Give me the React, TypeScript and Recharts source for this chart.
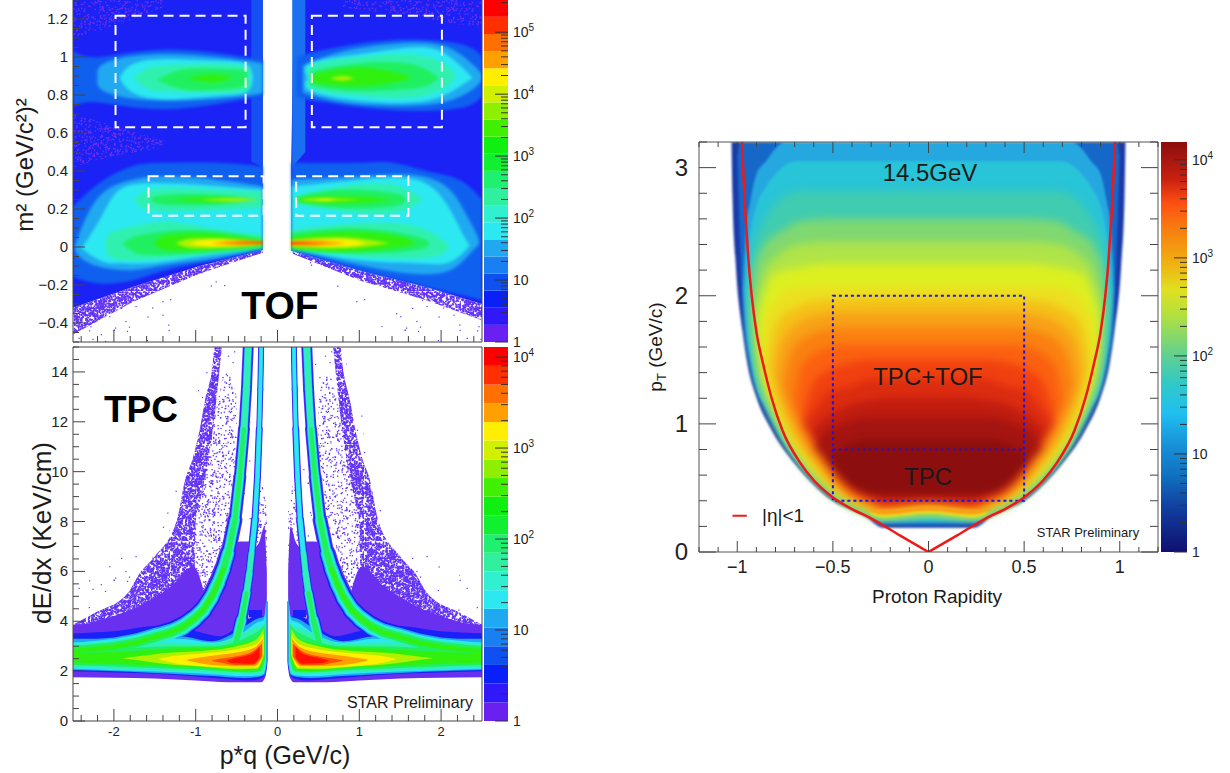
import { ComposedChart, Area, Line, XAxis, YAxis, ReferenceArea, ReferenceLine } from 'recharts';

type Row = [number, number, number];
type Pt = [number, number];

const FONT = '"Liberation Sans", Arial, sans-serif';

// jet-like palette of the two ROOT plots on the left
const PURPLE = '#6a30f0';
const BLUE = '#1a20f8';
const MIDBLUE = '#1060f0';
const LIGHTBLUE = '#20a8f0';
const CYAN = '#2ce8f0';
const TEAL = '#30f0b0';
const GREEN = '#20f060';
const BRIGHT = '#30f010';
const LIME = '#b0f000';
const YELLOW = '#fff000';
const ORANGE = '#ffa000';
const REDORANGE = '#ff5000';
const RED = '#ff1000';

// ---------- TOF panel: m2 vs p*q, contours as [p*q, low, high] ----------
const tofBaseLeft: Row[] = [[-2.5, -0.32, 1.3], [-1.77, -0.21, 1.3], [-0.95, -0.1, 1.3], [-0.18, -0.016, 1.3]];
const tofBaseRight: Row[] = [[0.167, -0.02, 0.42], [0.2, -0.022, 1.3], [1, -0.122, 1.3], [1.82, -0.21, 1.3], [2.5, -0.3, 1.3]];
const tofDenseLeft: Row[] = [[-2.5, -0.46, -0.32], [-1.77, -0.29, -0.21], [-0.95, -0.14, -0.1], [-0.18, -0.03, -0.016]];
const tofDenseRight: Row[] = [[0.187, -0.035, -0.02], [1, -0.175, -0.122], [1.82, -0.28, -0.21], [2.5, -0.386, -0.3]];
const tofSparseLeft: Row[] = [[-2.5, -0.5, -0.46], [-1.5, -0.5, -0.21], [-1, -0.38, -0.14], [-0.5, -0.18, -0.08], [-0.2, -0.04, -0.03]];
const tofSparseRight: Row[] = [[0.2, -0.05, -0.035], [0.6, -0.2, -0.1], [1.1, -0.38, -0.19], [1.6, -0.5, -0.25], [2.5, -0.5, -0.386]];
const tofPurpleA: Row[] = [[-2.5, 1.1, 1.3], [-2, 1.16, 1.3], [-1.4, 1.26, 1.3]];
const tofPurpleB: Row[] = [[-2.5, 0.42, 0.7], [-2, 0.48, 0.64], [-1.4, 0.52, 0.56]];
const tofPurpleC: Row[] = [[0.8, 1.26, 1.3], [1.6, 1.22, 1.3], [2.5, 1.15, 1.3]];
const tofGapLeft: Row[] = [[-0.32, 0.45, 1.3], [-0.18, 0.42, 1.3]];
const tofGapRight: Row[] = [[0.18, 0.42, 1.3], [0.34, 0.5, 1.3]];

const protonLeftMid: Row[] = [[-2.5, 0.74, 1.03], [-2.175, 0.76, 1], [-1.36, 0.725, 1.04], [-0.38, 0.78, 1], [-0.18, 0.8, 0.98]];
const protonLeftLight: Row[] = [[-2.2, 0.89, 0.89], [-2.09, 0.813, 0.972], [-1.36, 0.769, 1.016], [-0.383, 0.795, 0.981], [-0.18, 0.82, 0.96]];
const protonLeftCyan: Row[] = [[-1.93, 0.89, 0.89], [-1.77, 0.813, 0.963], [-1.36, 0.777, 0.99], [-0.75, 0.795, 0.981], [-0.383, 0.813, 0.963], [-0.3, 0.89, 0.89]];
const protonLeftTeal: Row[] = [[-1.77, 0.89, 0.89], [-1.6, 0.835, 0.94], [-1.44, 0.82, 0.954], [-0.953, 0.813, 0.963], [-0.403, 0.82, 0.954], [-0.36, 0.89, 0.89]];
const protonLeftGreen: Row[] = [[-1.48, 0.88, 0.88], [-1.157, 0.83, 0.933], [-0.75, 0.827, 0.937], [-0.403, 0.848, 0.928], [-0.38, 0.89, 0.89]];
const protonLeftBright: Row[] = [[-1.116, 0.885, 0.885], [-0.79, 0.866, 0.91], [-0.546, 0.89, 0.89]];

const protonRightMid: Row[] = [[0.23, 0.79, 1], [0.595, 0.76, 1.04], [1.41, 0.72, 1.09], [2.22, 0.73, 1.07], [2.5, 0.795, 1]];
const protonRightLight: Row[] = [[0.31, 0.813, 0.957], [0.798, 0.76, 1.03], [1.41, 0.742, 1.07], [2.02, 0.76, 1.06], [2.387, 0.83, 0.96], [2.5, 0.88, 0.91]];
const protonRightCyan: Row[] = [[0.37, 0.89, 0.89], [0.41, 0.82, 0.97], [1, 0.77, 1.015], [1.61, 0.76, 1.05], [2.02, 0.795, 1.025], [2.387, 0.89, 0.89]];
const protonRightTeal: Row[] = [[0.4, 0.89, 0.89], [0.43, 0.83, 0.96], [1, 0.795, 1], [1.61, 0.786, 1.015], [2.02, 0.83, 0.97], [2.18, 0.9, 0.9]];
const protonRightGreen: Row[] = [[0.43, 0.89, 0.89], [0.452, 0.848, 0.928], [1, 0.82, 0.966], [1.53, 0.83, 0.97], [1.817, 0.848, 0.936], [1.98, 0.89, 0.89]];
const protonRightBright: Row[] = [[0.44, 0.89, 0.89], [0.452, 0.866, 0.91], [1, 0.845, 0.945], [1.53, 0.875, 0.91], [1.6, 0.89, 0.89]];
const protonRightLime: Row[] = [[0.635, 0.887, 0.887], [0.8, 0.875, 0.9], [0.94, 0.887, 0.887]];

const lowerLeftMid: Row[] = [[-2.5, -0.157, 0.213], [-2.175, -0.192, 0.337], [-1.77, -0.175, 0.425], [-1.36, -0.122, 0.443], [-0.75, -0.069, 0.443], [-0.18, -0.016, 0.425]];
const lowerLeftLight: Row[] = [[-2.48, 0, 0], [-2.42, -0.051, 0.072], [-2.175, -0.104, 0.268], [-1.77, -0.122, 0.354], [-1.36, -0.095, 0.372], [-0.75, -0.06, 0.354], [-0.18, -0.007, 0.319]];
const lowerLeftCyan: Row[] = [[-2.4, 0, 0], [-2.34, -0.025, 0.028], [-2.13, -0.078, 0.178], [-1.93, -0.086, 0.302], [-1.56, -0.086, 0.337], [-0.953, -0.051, 0.328], [-0.18, -0.012, 0.302]];
const pionLeftTeal: Row[] = [[-2.1, 0.02, 0.02], [-2.05, -0.051, 0.072], [-1.77, -0.069, 0.108], [-1.36, -0.06, 0.134], [-0.953, -0.042, 0.108], [-0.18, -0.007, 0.063]];
const pionLeftGreen: Row[] = [[-1.9, 0.02, 0.02], [-1.77, -0.025, 0.05], [-1.56, -0.042, 0.072], [-0.953, -0.034, 0.09], [-0.18, -0.007, 0.046]];
const pionLeftBright: Row[] = [[-1.5, 0.02, 0.02], [-1.36, -0.015, 0.06], [-0.87, -0.016, 0.072], [-0.18, 0.005, 0.034]];
const pionLeftLime: Row[] = [[-1.24, 0.02, 0.02], [-0.953, -0.007, 0.046], [-0.18, 0.01, 0.03]];
const pionLeftYellow: Row[] = [[-1.075, 0.02, 0.02], [-0.75, 0.002, 0.041], [-0.18, 0.014, 0.028]];
const pionLeftOrange: Row[] = [[-0.83, 0.019, 0.019], [-0.46, 0.011, 0.034], [-0.18, 0.016, 0.028]];
const pionLeftRed: Row[] = [[-0.71, 0.019, 0.019], [-0.18, 0.018, 0.026]];
const kaonLeftTeal: Row[] = [[-1.75, 0.25, 0.25], [-1.65, 0.205, 0.284], [-1.36, 0.187, 0.31], [-0.75, 0.196, 0.302], [-0.18, 0.205, 0.293]];
const kaonLeftGreen: Row[] = [[-1.56, 0.25, 0.25], [-1.36, 0.222, 0.275], [-0.75, 0.222, 0.275], [-0.24, 0.25, 0.25]];
const kaonLeftBright: Row[] = [[-1.32, 0.25, 0.25], [-0.75, 0.235, 0.263], [-0.24, 0.25, 0.25]];
const kaonLeftLime: Row[] = [[-0.953, 0.25, 0.25], [-0.546, 0.24, 0.257], [-0.24, 0.25, 0.25]];

const lowerRightMid: Row[] = [[0.17, -0.02, 0.443], [1, -0.122, 0.443], [1.41, -0.165, 0.443], [1.82, -0.21, 0.4], [2.22, -0.25, 0.354], [2.5, -0.28, 0.25]];
const lowerRightLight: Row[] = [[0.17, -0.015, 0.354], [1, -0.095, 0.372], [1.61, -0.14, 0.381], [2.06, -0.13, 0.319], [2.3, -0.06, 0.178], [2.43, 0, 0.072], [2.47, 0.02, 0.02]];
const lowerRightCyan: Row[] = [[0.17, -0.012, 0.319], [1, -0.07, 0.354], [1.695, -0.086, 0.354], [2.06, -0.086, 0.231], [2.26, -0.034, 0.072], [2.35, 0.011, 0.011]];
const pionRightTeal: Row[] = [[0.167, -0.019, 0.09], [1, -0.051, 0.125], [1.695, -0.06, 0.108], [2.02, -0.034, 0.037], [2.1, 0.011, 0.011]];
const pionRightGreen: Row[] = [[0.167, -0.016, 0.072], [1, -0.034, 0.099], [1.695, -0.016, 0.055], [1.857, 0.02, 0.02]];
const pionRightBright: Row[] = [[0.167, -0.007, 0.051], [0.798, -0.025, 0.081], [1.41, -0.007, 0.063], [1.695, 0.02, 0.02]];
const pionRightLime: Row[] = [[0.167, 0.002, 0.037], [0.798, -0.007, 0.051], [1.37, 0.02, 0.02]];
const pionRightYellow: Row[] = [[0.167, 0.007, 0.032], [0.758, 0.002, 0.041], [1.083, 0.02, 0.02]];
const pionRightOrange: Row[] = [[0.167, 0.011, 0.028], [0.473, 0.007, 0.034], [0.84, 0.02, 0.02]];
const pionRightRed: Row[] = [[0.167, 0.014, 0.025], [0.595, 0.02, 0.02]];
const kaonRightTeal: Row[] = [[0.187, 0.231, 0.266], [0.798, 0.187, 0.319], [1.41, 0.178, 0.328], [1.776, 0.25, 0.25]];
const kaonRightGreen: Row[] = [[0.248, 0.231, 0.266], [0.798, 0.205, 0.302], [1.41, 0.213, 0.284], [1.57, 0.25, 0.25]];
const kaonRightBright: Row[] = [[0.248, 0.25, 0.25], [0.43, 0.231, 0.266], [1, 0.231, 0.266], [1.41, 0.25, 0.25]];
const kaonRightLime: Row[] = [[0.289, 0.25, 0.25], [0.513, 0.24, 0.257], [1.04, 0.25, 0.25]];
const kaonRightYellow: Row[] = [[0.45, 0.25, 0.25], [0.6, 0.243, 0.254], [0.7, 0.25, 0.25]];

const tofBoxes = [[-1.98, -0.39, 0.63, 1.217], [0.42, 2.01, 0.63, 1.217], [-1.576, -0.17, 0.164, 0.372], [0.228, 1.6, 0.164, 0.372]];

// ---------- TPC panel: dE/dx vs p*q, read on the positive side ----------
const tpcSparse: Row[] = [[0.45, 13, 15], [0.6, 9, 15], [0.9, 5, 14], [1.2, 4, 10], [1.5, 3.5, 7.6], [2, 3.5, 6.4], [2.5, 3.5, 5.2]];
const tpcMedium: Row[] = [[0.5, 8, 13], [0.62, 6.5, 14], [0.75, 5, 12.5], [0.9, 4.4, 9.7], [1.03, 4, 8]];
const tpcDense: Row[] = [[0.68, 15, 15], [0.73, 13.4, 15], [0.77, 12.2, 15], [0.79, 11.7, 14.4], [0.89, 9.67, 12.8], [0.95, 8.8, 11.7], [1, 7.9, 11], [1.03, 3.5, 10.6], [1.13, 3, 9.67], [1.23, 3, 8.06], [1.5, 3, 6.6], [1.69, 3, 5.9], [1.83, 3, 5.13], [2.24, 3, 4.32], [2.5, 3, 3.86]];
const tpcSolid: Row[] = [[0.9, 3.5, 5.2], [1.03, 3.5, 6.2], [1.3, 3, 5.4], [1.7, 3, 4.6], [2.1, 3, 4.1], [2.5, 3, 3.75]];
const tpcGapSpeck: Row[] = [[0.27, 7, 11], [0.33, 7, 12], [0.42, 7, 10]];
const tpcPatchOuter: Row[] = [[0.33, 5.2, 7.2], [0.45, 3.8, 7.2], [0.55, 3.4, 7], [0.68, 3.3, 5.9], [0.83, 3.3, 4.6], [0.9, 3.3, 3.8]];
const tpcPatchInner: Row[] = [[0.13, 4.25, 6], [0.16, 4.25, 7.8], [0.22, 4.25, 7.2], [0.3, 4.25, 6.8], [0.36, 4.25, 6.2], [0.42, 4.25, 4.6]];
const tpcPatchFuzz: Row[] = [[0.13, 6, 8.5], [0.2, 7, 9.5], [0.3, 6.8, 8]];
const tpcPatchBlue: Row[] = [[0.19, 4.15, 4.45], [0.35, 4.15, 4.45]];

const tpcMainPurple: Row[] = [[0.12, 2.4, 4.8], [0.15, 1.75, 4.8], [0.2, 1.55, 4.4], [0.3, 1.55, 4.2], [0.6, 1.55, 3.6], [1, 1.62, 4.3], [1.5, 1.7, 4.2], [2, 1.73, 4], [2.5, 1.75, 3.86]];
const tpcMainBlue: Row[] = [[0.13, 2.2, 4.6], [0.16, 1.8, 4.2], [0.22, 1.68, 4.2], [0.35, 1.62, 4.1], [0.7, 1.7, 3.4], [1, 1.78, 3.6], [1.5, 1.9, 3.8], [2, 1.95, 3.6], [2.5, 2, 3.52]];
const tpcMainLight: Row[] = [[0.135, 2.25, 5], [0.16, 1.85, 4.2], [0.25, 1.76, 4.1], [0.4, 1.72, 3.8], [0.8, 1.8, 3.2], [1.2, 1.88, 3.4], [1.8, 1.98, 3.3], [2.5, 2.05, 3.3]];
const tpcMainCyan: Row[] = [[0.135, 2.3, 4.9], [0.17, 1.9, 4.05], [0.25, 1.82, 3.95], [0.4, 1.8, 3.6], [0.8, 1.88, 3.15], [1.2, 1.95, 3.3], [1.8, 2.02, 3.2], [2.5, 2.1, 3.15]];
const tpcMainTeal: Row[] = [[0.14, 2.4, 4.2], [0.18, 1.95, 3.85], [0.3, 1.88, 3.7], [0.8, 1.95, 3.1], [1.3, 2.02, 3.15], [1.8, 2.08, 3.05], [2.5, 2.15, 3]];
const tpcMainGreen: Row[] = [[0.15, 2.5, 3.9], [0.2, 2, 3.7], [0.35, 1.95, 3.4], [0.8, 2.03, 3], [1.3, 2.1, 3], [1.8, 2.17, 2.93], [2.5, 2.25, 2.88]];
const tpcMainBright: Row[] = [[0.16, 2.5, 3.6], [0.22, 2.05, 3.4], [0.4, 2, 3.15], [0.8, 2.1, 2.95], [1.2, 2.17, 2.92], [1.8, 2.27, 2.8], [2.5, 2.35, 2.72]];
const tpcMainLime: Row[] = [[0.17, 2.6, 3.7], [0.25, 2.1, 3.3], [0.5, 2.08, 3], [0.9, 2.18, 2.82], [1.4, 2.3, 2.72], [1.8, 2.48, 2.56], [1.9, 2.52, 2.52]];
const tpcMainYellow: Row[] = [[0.17, 2.7, 3.5], [0.25, 2.15, 3.1], [0.5, 2.15, 2.88], [0.9, 2.2, 2.72], [1.3, 2.35, 2.6], [1.45, 2.48, 2.5]];
const tpcMainOrange: Row[] = [[0.18, 2.6, 3.3], [0.28, 2.2, 2.95], [0.5, 2.2, 2.75], [0.8, 2.25, 2.62], [1.1, 2.42, 2.47]];
const tpcMainRedOrange: Row[] = [[0.19, 2.6, 3.1], [0.3, 2.25, 2.8], [0.5, 2.25, 2.6], [0.7, 2.35, 2.5], [0.8, 2.42, 2.44]];
const tpcMainRed: Row[] = [[0.22, 2.55, 3], [0.3, 2.3, 2.72], [0.55, 2.33, 2.5], [0.62, 2.4, 2.43]];

// ridge of the two curved bands, [p*q, dE/dx], and their width along the ridge
const protonRidge: Pt[] = [[0.358, 15], [0.38, 13.3], [0.41, 11.7], [0.46, 9.8], [0.52, 8.06], [0.603, 6.73], [0.66, 6.1], [0.726, 5.53], [0.81, 4.95], [0.91, 4.45], [1.02, 4.1], [1.155, 3.78], [1.3, 3.55], [1.48, 3.38], [1.75, 3.12], [2.03, 2.95], [2.5, 2.8]];
const protonWidths = [11, 11, 12, 13, 15, 18, 19, 20, 21, 22, 23, 24, 25, 26, 27, 28];
const kaonRidge: Pt[] = [[0.2, 15], [0.21, 13.3], [0.223, 11.7], [0.245, 9.8], [0.276, 8.06], [0.317, 6.73], [0.345, 5.9], [0.378, 5.13], [0.44, 4.05], [0.52, 2.98]];
const kaonWidths = [6, 6, 7, 7, 8, 9, 10, 12, 15];

// ---------- Rapidity panel: pT vs y, nested levels read on the positive side ----------
const rapLevels: [string, Row[]][] = [
  ['#1a3aa8', [[0, 0.19, 3.2], [0.24, 0.19, 3.2], [0.32, 0.265, 3.2], [0.53, 0.43, 3.2], [0.7, 0.69, 3.2], [0.82, 0.95, 3.2], [0.9, 1.21, 3.2], [0.947, 1.47, 3.2], [0.973, 1.73, 3.2], [1.008, 2.25, 3.2], [1.025, 2.78, 3.2], [1.03, 3.2, 3.2]]],
  ['#1568c8', [[0, 0.205, 3.2], [0.24, 0.21, 3.2], [0.31, 0.27, 3.2], [0.52, 0.435, 3.2], [0.69, 0.695, 3.2], [0.81, 0.96, 3.2], [0.89, 1.22, 3.2], [0.94, 1.48, 3.2], [0.965, 1.74, 3.2], [0.985, 2.4, 3.2], [1, 3.1, 3.1]]],
  ['#25a8e0', [[0, 0.23, 3.2], [0.24, 0.23, 3.2], [0.31, 0.27, 3.2], [0.52, 0.44, 3.2], [0.69, 0.7, 3.2], [0.75, 0.83, 3.2], [0.8, 0.97, 3.15], [0.85, 1.12, 3.05], [0.9, 1.28, 2.95], [0.93, 1.49, 2.75], [0.955, 1.74, 2.5], [0.97, 2.05, 2.05]]],
  ['#28c4d8', [[0, 0.25, 3.05], [0.24, 0.245, 3.05], [0.31, 0.275, 3.05], [0.52, 0.445, 3.05], [0.69, 0.71, 3.05], [0.75, 0.84, 3.02], [0.8, 0.98, 2.95], [0.85, 1.13, 2.85], [0.9, 1.3, 2.7], [0.925, 1.5, 2.55], [0.945, 1.75, 2.3], [0.955, 2, 2]]],
];
const rapInnerLevels: [string, Row[]][] = [
  ['#40ccb0', [[0, 0.265, 2.82], [0.24, 0.25, 2.82], [0.31, 0.28, 2.82], [0.52, 0.45, 2.82], [0.68, 0.7, 2.82], [0.75, 0.85, 2.78], [0.8, 0.99, 2.72], [0.85, 1.15, 2.62], [0.89, 1.3, 2.5], [0.92, 1.52, 2.35], [0.94, 1.8, 2.1], [0.945, 1.95, 1.95]]],
  ['#80d870', [[0, 0.28, 2.6], [0.24, 0.255, 2.6], [0.31, 0.285, 2.6], [0.52, 0.455, 2.6], [0.68, 0.71, 2.58], [0.75, 0.86, 2.52], [0.8, 1, 2.48], [0.85, 1.17, 2.42], [0.885, 1.33, 2.33], [0.915, 1.55, 2.2], [0.93, 1.8, 2], [0.935, 1.9, 1.9]]],
  ['#b0e448', [[0, 0.295, 2.42], [0.24, 0.26, 2.42], [0.31, 0.29, 2.42], [0.52, 0.465, 2.42], [0.68, 0.72, 2.4], [0.75, 0.87, 2.36], [0.8, 1.02, 2.3], [0.85, 1.2, 2.22], [0.88, 1.35, 2.1], [0.905, 1.6, 1.95], [0.915, 1.8, 1.8]]],
  ['#dcf020', [[0, 0.305, 2.25], [0.24, 0.27, 2.25], [0.31, 0.305, 2.25], [0.52, 0.475, 2.25], [0.68, 0.73, 2.22], [0.75, 0.88, 2.2], [0.82, 1.1, 2.15], [0.86, 1.25, 2], [0.89, 1.45, 1.85], [0.9, 1.65, 1.65]]],
  ['#ece020', [[0, 0.315, 2.08], [0.24, 0.28, 2.08], [0.31, 0.32, 2.08], [0.5, 0.47, 2.08], [0.66, 0.73, 2.07], [0.72, 0.85, 2.05], [0.78, 1.02, 2], [0.83, 1.2, 1.9], [0.865, 1.4, 1.75], [0.875, 1.55, 1.55]]],
  ['#f5c018', [[0, 0.33, 1.98], [0.24, 0.295, 1.98], [0.3, 0.325, 1.98], [0.48, 0.47, 1.97], [0.64, 0.74, 1.95], [0.7, 0.87, 1.9], [0.76, 1.05, 1.85], [0.81, 1.25, 1.72], [0.84, 1.45, 1.45]]],
  ['#f8a018', [[0, 0.345, 1.87], [0.24, 0.31, 1.87], [0.3, 0.34, 1.87], [0.46, 0.47, 1.87], [0.6, 0.72, 1.84], [0.67, 0.87, 1.8], [0.73, 1.05, 1.72], [0.78, 1.25, 1.58], [0.8, 1.38, 1.38]]],
  ['#fa8010', [[0, 0.36, 1.75], [0.24, 0.325, 1.75], [0.3, 0.355, 1.75], [0.44, 0.47, 1.75], [0.58, 0.72, 1.72], [0.64, 0.86, 1.68], [0.7, 1.05, 1.6], [0.74, 1.2, 1.45], [0.76, 1.3, 1.3]]],
  ['#fb6010', [[0, 0.375, 1.62], [0.24, 0.34, 1.62], [0.3, 0.375, 1.62], [0.42, 0.47, 1.62], [0.55, 0.72, 1.58], [0.62, 0.88, 1.52], [0.67, 1.05, 1.42], [0.7, 1.18, 1.18]]],
  ['#f04010', [[0, 0.385, 1.5], [0.24, 0.355, 1.5], [0.3, 0.395, 1.5], [0.4, 0.47, 1.48], [0.52, 0.68, 1.42], [0.6, 0.88, 1.32], [0.66, 1.05, 1.05]]],
  ['#dc2c10', [[0, 0.395, 1.35], [0.24, 0.375, 1.35], [0.3, 0.42, 1.35], [0.4, 0.5, 1.3], [0.52, 0.7, 1.25], [0.6, 0.88, 1.1], [0.66, 1, 1]]],
  ['#c01c10', [[0, 0.41, 1.2], [0.24, 0.4, 1.2], [0.32, 0.46, 1.18], [0.46, 0.62, 1.12], [0.56, 0.8, 1.02], [0.62, 0.92, 0.92]]],
  ['#a41410', [[0, 0.43, 1.05], [0.3, 0.44, 1.05], [0.45, 0.55, 1], [0.56, 0.75, 0.9], [0.6, 0.82, 0.82]]],
  ['#8c0e0e', [[0, 0.44, 0.88], [0.3, 0.44, 0.88], [0.42, 0.54, 0.84], [0.5, 0.68, 0.76], [0.52, 0.72, 0.72]]],
];
const rapHumpLevels: [string, Row[]][] = [
  ['#80d870', [[0, 0.28, 0.3], [0.24, 0.255, 0.28], [0.3, 0.275, 0.285]]],
  ['#ece020', [[0, 0.3, 0.32], [0.24, 0.27, 0.3], [0.31, 0.3, 0.31]]],
  ['#f8a018', [[0, 0.32, 0.36], [0.24, 0.29, 0.33], [0.32, 0.33, 0.34]]],
];

const etaLeft: Pt[] = [[-0.975, 3.2], [-0.965, 2.85], [-0.952, 2.516], [-0.94, 2.25], [-0.924, 1.995], [-0.9, 1.72], [-0.865, 1.47], [-0.82, 1.2], [-0.764, 0.95], [-0.668, 0.69], [-0.6, 0.56], [-0.503, 0.43], [-0.4, 0.335], [-0.303, 0.265], [-0.15, 0.13], [0, 0]];
const etaRight: Pt[] = [[0, 0], [0.15, 0.13], [0.303, 0.265], [0.4, 0.335], [0.503, 0.43], [0.6, 0.56], [0.668, 0.69], [0.764, 0.95], [0.82, 1.2], [0.865, 1.47], [0.9, 1.72], [0.924, 1.995], [0.94, 2.25], [0.952, 2.516], [0.965, 2.85], [0.975, 3.2]];
const etaLegendKey: Pt[] = [[-1.025, 0.283], [-0.95, 0.283]];

// ---------- colour bars ----------
const tofBarEdges = [1, 1.89, 3.57, 6.74, 12.7, 24, 45.4, 85.7, 162, 306, 578, 1090, 2060, 3890, 7350, 13900, 26200, 49500, 93500, 177000, 331000];
const tpcBarEdges = [1, 1.6, 2.58, 4.13, 6.63, 10.6, 17.1, 27.4, 44, 70.6, 113, 182, 292, 468, 751, 1210, 1930, 3100, 4980, 8000, 12900];
const barColors = ['#6a20f0', '#3018f8', '#0a20f8', '#1050f0', '#1880f0', '#20a8f0', '#2ce8f0', '#30f0d0', '#30f0a0', '#20f070', '#10f030', '#10f010', '#40f000', '#8ef000', '#d0f000', '#ffee00', '#ffa000', '#ff7000', '#ff3000', '#ff0000'];
const rapBarStops: [number, string][] = [[0, '#8a0e0e'], [0.09, '#c82010'], [0.15, '#ff5010'], [0.21, '#f87c10'], [0.295, '#f0b010'], [0.36, '#e0e020'], [0.425, '#b0e040'], [0.52, '#60d090'], [0.59, '#30c8c8'], [0.66, '#20c0f0'], [0.74, '#1890d8'], [0.815, '#1070c0'], [0.89, '#1040a0'], [1, '#101070']];

const tofXMajor = [-2, -1, 0, 1, 2];
const tofYMajor = [-0.4, -0.2, 0, 0.2, 0.4, 0.6, 0.8, 1, 1.2];
const tpcYMajor = [0, 2, 4, 6, 8, 10, 12, 14];
const rapXMajor = [-1, -0.5, 0, 0.5, 1];
const rapYMajor = [0, 1, 2, 3];

const steps = (from: number, to: number, step: number) => {
  const out: number[] = [];
  const n = Math.round((to - from) / step);
  for (let i = 0; i <= n; i++) out.push(Math.round((from + i * step) * 1000) / 1000);
  return out;
};
const logTicks = (top: number) => {
  const out: number[] = [];
  for (let d = 1; d <= top; d *= 10) for (let k = 1; k < 10; k++) if (k * d <= top) out.push(k * d);
  return out;
};

const toBand = (rows: Row[]) => rows.map(([x, lo, hi]) => ({ x, band: [lo, hi] }));
const flipRows = (rows: Row[]): Row[] => rows.map(([x, lo, hi]) => [-x, lo, hi] as Row).reverse();
const bothSides = (rows: Row[]): Row[] => [...flipRows(rows.filter((r) => r[0] !== 0)), ...rows];
const toPoints = (pts: Pt[], sign = 1) => pts.map(([x, y]) => ({ x: sign * x, y })).sort((a, b) => a.x - b.x);

// speckle tiles for the single-count regions (texture only, not data)
const hash = (n: number) => {
  const s = Math.sin(n * 12.9898) * 43758.5453;
  return s - Math.floor(s);
};
const speckle = (id: string, count: number, color: string, dot: number) => {
  const size = 97;
  const dots = [];
  for (let i = 1; i <= count; i++) {
    dots.push(<rect key={i} x={hash(i) * size} y={hash(i + 5000) * size} width={dot} height={dot} fill={color} />);
  }
  return (
    <pattern id={id} width={size} height={size} patternUnits="userSpaceOnUse">
      {dots}
    </pattern>
  );
};
const speckleDefs = (
  <defs>
    {speckle('speckSparse', 40, '#6030f8', 1.2)}
    {speckle('speckMedium', 900, '#6030f8', 1.3)}
    {speckle('speckDense', 5000, '#6030f8', 1.6)}
    {speckle('speckTint', 1200, '#7a30e8', 1.3)}
  </defs>
);

const heatArea = (key: string, rows: Row[], fill: string, curve = 'monotone') => (
  <Area
    key={key}
    data={toBand(rows)}
    dataKey="band"
    type={curve as any}
    fill={fill}
    fillOpacity={1}
    stroke="none"
    dot={false}
    activeDot={false}
    isAnimationActive={false}
  />
);
const ribbon = (key: string, pts: Pt[], sign: number, width: number, color: string) => (
  <Line
    key={key}
    data={toPoints(pts, sign)}
    dataKey="y"
    type="linear"
    stroke={color}
    strokeWidth={width}
    strokeLinecap="round"
    dot={false}
    activeDot={false}
    isAnimationActive={false}
  />
);

function HeatLayer({ left, top, width, height, xDomain, yDomain, blur, speckled, children }: any) {
  return (
    <div style={{ position: 'absolute', left, top, width, height, overflow: 'hidden' }}>
      <div style={{ filter: `blur(${blur}px)`, width, height }}>
        <ComposedChart width={width} height={height} margin={{ top: 0, right: 0, bottom: 0, left: 0 }}>
          {speckled ? speckleDefs : null}
          <XAxis hide dataKey="x" type="number" domain={xDomain} allowDataOverflow />
          <YAxis hide type="number" domain={yDomain} allowDataOverflow />
          {children}
        </ComposedChart>
      </div>
    </div>
  );
}

const axisColor = '#444';
const tickLabelStyle = { fontFamily: FONT, fill: '#222' };
const minusSign = (v: number) => (v < 0 ? `\u2212${Math.abs(v)}` : String(v));

const xTick = (majors: number[], major: number, minor: number, opts: { size?: number; dy?: number; fmt?: (v: number) => string; dir?: number }) => (p: any) => {
  const v = p.payload.value;
  const isMajor = majors.includes(v);
  const dir = opts.dir ?? -1;
  return (
    <g>
      <line x1={p.x} x2={p.x} y1={p.y} y2={p.y + dir * (isMajor ? major : minor)} stroke={axisColor} />
      {opts.size && isMajor ? (
        <text x={p.x} y={p.y + (opts.dy ?? 16)} textAnchor="middle" fontSize={opts.size} {...tickLabelStyle}>
          {opts.fmt ? opts.fmt(v) : String(v)}
        </text>
      ) : null}
    </g>
  );
};
const yTick = (majors: number[], major: number, minor: number, opts: { size?: number; gap?: number; dy?: number; dir?: number }) => (p: any) => {
  const v = p.payload.value;
  const isMajor = majors.includes(v);
  const dir = opts.dir ?? 1;
  return (
    <g>
      <line x1={p.x} x2={p.x + dir * (isMajor ? major : minor)} y1={p.y} y2={p.y} stroke={axisColor} />
      {opts.size && isMajor ? (
        <text x={p.x - (opts.gap ?? 5)} y={p.y + (opts.dy ?? 5)} textAnchor="end" fontSize={opts.size} {...tickLabelStyle}>
          {minusSign(v)}
        </text>
      ) : null}
    </g>
  );
};

const barTick = (major: number, minor: number) => (p: any) => {
  const v = p.payload.value;
  const power = Math.round(Math.log10(v));
  const isMajor = Math.abs(Math.log10(v) - power) < 1e-6;
  return (
    <g>
      <line x1={p.x} x2={p.x - (isMajor ? major : minor)} y1={p.y} y2={p.y} stroke="#333" />
      {isMajor ? (
        <text x={p.x + 5} y={p.y + 5} fontSize={14} {...tickLabelStyle}>
          {power === 0 ? '1' : '10'}
          {power > 1 ? (
            <tspan dy={-6} fontSize={10}>
              {power}
            </tspan>
          ) : null}
        </text>
      ) : null}
    </g>
  );
};

function ColorBar({ left, top, plotWidth, height, domain, edges, fill, major, minor }: any) {
  const labelWidth = 40;
  return (
    <div style={{ position: 'absolute', left, top: top - 8 }}>
      <ComposedChart width={plotWidth + labelWidth} height={height + 16} margin={{ top: 8, right: 0, bottom: 8, left: 0 }}>
        <defs>
          <linearGradient id="rapBar" x1="0" y1="0" x2="0" y2="1">
            {rapBarStops.map(([o, c]) => (
              <stop key={o} offset={o} stopColor={c} />
            ))}
          </linearGradient>
        </defs>
        <XAxis hide type="number" dataKey="x" domain={[0, 1]} allowDataOverflow />
        {edges
          ? edges.slice(1).map((e: number, i: number) => (
              <ReferenceArea key={e} x1={0} x2={1} y1={edges[i]} y2={e} fill={barColors[i]} fillOpacity={1} stroke="none" ifOverflow="visible" />
            ))
          : <ReferenceArea x1={0} x2={1} y1={domain[0]} y2={domain[1]} fill={fill} fillOpacity={1} stroke="none" ifOverflow="visible" />}
        <YAxis
          orientation="right"
          width={labelWidth}
          type="number"
          scale="log"
          domain={domain}
          allowDataOverflow
          ticks={logTicks(domain[1])}
          interval={0}
          axisLine={false}
          tickLine={false}
          tickSize={0}
          tickMargin={0}
          tick={barTick(major, minor)}
        />
      </ComposedChart>
    </div>
  );
}

function Note({ x, y, size, bold, rotate, children }: any) {
  return (
    <div
      style={{
        position: 'absolute',
        left: x,
        top: y,
        transform: `translate(-50%, -50%)${rotate ? ` rotate(${rotate}deg)` : ''}`,
        fontFamily: FONT,
        fontSize: size,
        fontWeight: bold ? 700 : 400,
        color: bold ? '#000' : '#1a1a1a',
        whiteSpace: 'nowrap',
        lineHeight: 1,
      }}
    >
      {children}
    </div>
  );
}

const tofBackdrop: [Row[], string][] = [
  [tofSparseLeft, 'url(#speckSparse)'], [tofSparseRight, 'url(#speckSparse)'],
  [tofDenseLeft, 'url(#speckDense)'], [tofDenseRight, 'url(#speckDense)'],
  [tofBaseLeft, '#1a22f6'], [tofBaseRight, '#1a22f6'],
  [tofPurpleA, 'url(#speckTint)'], [tofPurpleB, 'url(#speckTint)'], [tofPurpleC, 'url(#speckTint)'],
  [tofGapLeft, '#1450f2'], [tofGapRight, '#1a70f0'],
];
const tofLayers: [Row[], string][] = [
  [protonLeftMid, MIDBLUE], [protonRightMid, MIDBLUE], [lowerLeftMid, MIDBLUE], [lowerRightMid, MIDBLUE],
  [protonLeftLight, LIGHTBLUE], [protonRightLight, LIGHTBLUE], [lowerLeftLight, LIGHTBLUE], [lowerRightLight, LIGHTBLUE],
  [protonLeftCyan, CYAN], [protonRightCyan, CYAN], [lowerLeftCyan, CYAN], [lowerRightCyan, CYAN],
  [protonLeftTeal, TEAL], [protonRightTeal, TEAL], [pionLeftTeal, TEAL], [pionRightTeal, TEAL], [kaonLeftTeal, TEAL], [kaonRightTeal, TEAL],
  [protonLeftGreen, GREEN], [protonRightGreen, GREEN], [pionLeftGreen, GREEN], [pionRightGreen, GREEN], [kaonLeftGreen, GREEN], [kaonRightGreen, GREEN],
  [protonLeftBright, BRIGHT], [protonRightBright, BRIGHT], [pionLeftBright, BRIGHT], [pionRightBright, BRIGHT], [kaonLeftBright, BRIGHT], [kaonRightBright, BRIGHT],
  [protonRightLime, LIME], [pionLeftLime, LIME], [pionRightLime, LIME], [kaonLeftLime, LIME], [kaonRightLime, LIME],
  [pionLeftYellow, YELLOW], [pionRightYellow, YELLOW], [kaonRightYellow, YELLOW],
  [pionLeftOrange, ORANGE], [pionRightOrange, ORANGE],
  [pionLeftRed, RED], [pionRightRed, RED],
];

// each level gets its own chart so a level's band always covers the curved limbs below it
// limb is [scale of the limb width, smallest limb that shows the level]
const tpcLevels: { color: string; main: Row[]; limb?: [number, number] }[] = [
  { color: PURPLE, main: tpcMainPurple, limb: [1, 0] },
  { color: BLUE, main: tpcMainBlue, limb: [0.85, 0] },
  { color: LIGHTBLUE, main: tpcMainLight, limb: [0.7, 0] },
  { color: CYAN, main: tpcMainCyan, limb: [0.58, 0] },
  { color: TEAL, main: tpcMainTeal, limb: [0.47, 9] },
  { color: GREEN, main: tpcMainGreen, limb: [0.36, 12] },
  { color: BRIGHT, main: tpcMainBright, limb: [0.16, 19] },
  { color: LIME, main: tpcMainLime },
  { color: YELLOW, main: tpcMainYellow },
  { color: ORANGE, main: tpcMainOrange },
  { color: REDORANGE, main: tpcMainRedOrange },
  { color: RED, main: tpcMainRed },
];

const both = (name: string, rows: Row[], fill: string) => [heatArea(`${name}+`, rows, fill), heatArea(`${name}-`, flipRows(rows), fill)];
const tpcBackdrop = [
  ...both('sparse', tpcSparse, 'url(#speckSparse)'),
  ...both('medium', tpcMedium, 'url(#speckMedium)'),
  ...both('dense', tpcDense, 'url(#speckDense)'),
  ...both('solid', tpcSolid, PURPLE),
  ...both('gap', tpcGapSpeck, 'url(#speckSparse)'),
  ...both('patchFuzz', tpcPatchFuzz, 'url(#speckMedium)'),
  ...both('patchOuter', tpcPatchOuter, PURPLE),
  ...both('patchInner', tpcPatchInner, PURPLE),
];
const levelMarks = (level: (typeof tpcLevels)[number], i: number) => {
  const marks: any[] = [...both(`main${i}`, level.main, level.color)];
  if (level.color === BLUE) marks.push(...both('patchBlue', tpcPatchBlue, BLUE));
  if (level.limb) {
    const [scale, smallest] = level.limb;
    ([[protonRidge, protonWidths], [kaonRidge, kaonWidths]] as [Pt[], number[]][]).forEach(([ridge, widths], r) => {
      widths.forEach((w, s) => {
        if (w < smallest) return;
        const seg = ridge.slice(s, s + 2);
        marks.push(ribbon(`l${i}r${r}s${s}+`, seg, 1, w * scale, level.color), ribbon(`l${i}r${r}s${s}-`, seg, -1, w * scale, level.color));
      });
    });
  }
  return marks;
};

export default function App() {
  return (
    <div style={{ position: 'absolute', left: 0, top: 0, width: 1230, height: 773, background: '#fff', overflow: 'hidden' }}>
      {/* TOF */}
      <HeatLayer left={73} top={0} width={409} height={342} xDomain={[-2.5, 2.5]} yDomain={[-0.5, 1.3]} blur={0.5} speckled>
        {tofBackdrop.map(([rows, fill], i) => heatArea(`tofb${i}`, rows, fill, 'linear'))}
      </HeatLayer>
      <HeatLayer left={73} top={0} width={409} height={342} xDomain={[-2.5, 2.5]} yDomain={[-0.5, 1.3]} blur={1.5}>
        {tofLayers.map(([rows, fill], i) => heatArea(`tof${i}`, rows, fill, 'natural'))}
      </HeatLayer>
      <div style={{ position: 'absolute', left: 0, top: 0 }}>
        <ComposedChart width={490} height={350} margin={{ top: 0, right: 8, bottom: 7, left: 0 }}>
          <XAxis
            dataKey="x"
            type="number"
            domain={[-2.5, 2.5]}
            allowDataOverflow
            ticks={steps(-2.4, 2.4, 0.2)}
            interval={0}
            height={1}
            stroke={axisColor}
            tickLine={false}
            tickSize={0}
            tickMargin={0}
            tick={xTick(tofXMajor, 12, 6, {})}
          />
          <YAxis
            type="number"
            domain={[-0.5, 1.3]}
            allowDataOverflow
            ticks={steps(-0.5, 1.3, 0.05)}
            interval={0}
            width={73}
            stroke={axisColor}
            tickLine={false}
            tickSize={0}
            tickMargin={0}
            tick={yTick(tofYMajor, 12, 6, { size: 15 })}
          />
          <ReferenceLine x={2.5} stroke={axisColor} />
          {tofBoxes.map(([x1, x2, y1, y2]) => (
            <ReferenceArea key={x1} x1={x1} x2={x2} y1={y1} y2={y2} fill="none" stroke="#fff" strokeWidth={2} strokeDasharray="10 6" />
          ))}
        </ComposedChart>
      </div>
      <ColorBar left={484} top={0} plotWidth={24} height={342} domain={[1, 331000]} edges={tofBarEdges} major={13} minor={7} />

      {/* TPC */}
      <HeatLayer left={73} top={347} width={409} height={374} xDomain={[-2.5, 2.5]} yDomain={[0, 15]} blur={0.5} speckled>
        {tpcBackdrop}
      </HeatLayer>
      {tpcLevels.map((level, i) => (
        <HeatLayer key={level.color} left={73} top={347} width={409} height={374} xDomain={[-2.5, 2.5]} yDomain={[0, 15]} blur={0.7}>
          {levelMarks(level, i)}
        </HeatLayer>
      ))}
      <div style={{ position: 'absolute', left: 0, top: 339 }}>
        <ComposedChart width={490} height={420} margin={{ top: 8, right: 8, bottom: 8, left: 0 }}>
          <XAxis
            dataKey="x"
            type="number"
            domain={[-2.5, 2.5]}
            allowDataOverflow
            ticks={steps(-2.4, 2.4, 0.2)}
            interval={0}
            height={30}
            stroke={axisColor}
            tickLine={false}
            tickSize={0}
            tickMargin={0}
            tick={xTick(tofXMajor, 12, 6, { size: 13, dy: 15 })}
          />
          <YAxis
            type="number"
            domain={[0, 15]}
            allowDataOverflow
            ticks={steps(0, 15, 0.5)}
            interval={0}
            width={73}
            stroke={axisColor}
            tickLine={false}
            tickSize={0}
            tickMargin={0}
            tick={yTick(tpcYMajor, 12, 6, { size: 15 })}
          />
          <ReferenceLine x={2.5} stroke={axisColor} />
          <ReferenceLine y={15} stroke={axisColor} />
        </ComposedChart>
      </div>
      <ColorBar left={484} top={347} plotWidth={24} height={374} domain={[1, 12900]} edges={tpcBarEdges} major={13} minor={7} />

      {/* Rapidity */}
      <HeatLayer left={699} top={142} width={459} height={410} xDomain={[-1.2, 1.2]} yDomain={[0, 3.2]} blur={1}>
        {rapLevels.map(([color, rows]) => heatArea(color, bothSides(rows), color))}
      </HeatLayer>
      <HeatLayer left={699} top={142} width={459} height={410} xDomain={[-1.2, 1.2]} yDomain={[0, 3.2]} blur={4.5}>
        {rapInnerLevels.map(([color, rows]) => heatArea(color, bothSides(rows), color))}
      </HeatLayer>
      <HeatLayer left={699} top={142} width={459} height={410} xDomain={[-1.2, 1.2]} yDomain={[0, 3.2]} blur={1.2}>
        {rapHumpLevels.map(([color, rows]) => heatArea(color, bothSides(rows), color))}
      </HeatLayer>
      <div style={{ position: 'absolute', left: 640, top: 130 }}>
        <ComposedChart width={530} height={490} margin={{ top: 11, right: 11, bottom: 8, left: 0 }}>
          <XAxis
            xAxisId="bottom"
            dataKey="x"
            type="number"
            domain={[-1.2, 1.2]}
            allowDataOverflow
            ticks={steps(-1.2, 1.2, 0.1)}
            interval={0}
            height={60}
            stroke="#555"
            tickLine={false}
            tickSize={0}
            tickMargin={0}
            tick={xTick(rapXMajor, 11, 5, { size: 18, dy: 21, fmt: minusSign })}
          />
          <XAxis
            xAxisId="top"
            dataKey="x"
            orientation="top"
            type="number"
            domain={[-1.2, 1.2]}
            allowDataOverflow
            ticks={steps(-1.2, 1.2, 0.1)}
            interval={0}
            height={1}
            stroke="#555"
            tickLine={false}
            tickSize={0}
            tickMargin={0}
            tick={xTick(rapXMajor, 11, 5, { dir: 1 })}
          />
          <YAxis
            yAxisId="left"
            type="number"
            domain={[0, 3.2]}
            allowDataOverflow
            ticks={steps(0, 3.2, 0.2)}
            interval={0}
            width={59}
            stroke="#555"
            tickLine={false}
            tickSize={0}
            tickMargin={0}
            tick={yTick(rapYMajor, 17, 8, { size: 24, gap: 11, dy: 8 })}
          />
          <YAxis
            yAxisId="right"
            orientation="right"
            type="number"
            domain={[0, 3.2]}
            allowDataOverflow
            ticks={steps(0, 3.2, 0.2)}
            interval={0}
            width={1}
            stroke="#555"
            tickLine={false}
            tickSize={0}
            tickMargin={0}
            tick={yTick(rapYMajor, 17, 8, { dir: -1 })}
          />
          <ReferenceArea xAxisId="bottom" yAxisId="left" x1={-0.5} x2={0.5} y1={0.4} y2={2} fill="none" stroke="#1515f0" strokeWidth={2} strokeDasharray="3 3" />
          <ReferenceLine xAxisId="bottom" yAxisId="left" segment={[{ x: -0.5, y: 0.8 }, { x: 0.5, y: 0.8 }]} stroke="#1515f0" strokeWidth={2} strokeDasharray="3 3" />
          <Line xAxisId="bottom" yAxisId="left" data={toPoints(etaLeft)} dataKey="y" type="monotone" stroke="#f01818" strokeWidth={2.5} dot={false} activeDot={false} isAnimationActive={false} />
          <Line xAxisId="bottom" yAxisId="left" data={toPoints(etaRight)} dataKey="y" type="monotone" stroke="#f01818" strokeWidth={2.5} dot={false} activeDot={false} isAnimationActive={false} />
          <Line xAxisId="bottom" yAxisId="left" data={toPoints(etaLegendKey)} dataKey="y" type="linear" stroke="#f01818" strokeWidth={2} dot={false} activeDot={false} isAnimationActive={false} />
        </ComposedChart>
      </div>
      <ColorBar left={1161} top={142} plotWidth={26} height={410} domain={[1, 15200]} fill="url(#rapBar)" major={13} minor={7} />

      <Note x={25} y={165} size={24} rotate={-90}>m² (GeV/c²)²</Note>
      <Note x={42} y={533} size={26} rotate={-90}>dE/dx (KeV/cm)</Note>
      <Note x={285} y={755} size={25}>p*q (GeV/c)</Note>
      <Note x={280} y={305} size={39} bold>TOF</Note>
      <Note x={141} y={409} size={37} bold>TPC</Note>
      <Note x={410} y={703} size={16}>STAR Preliminary</Note>
      <Note x={655} y={347} size={19} rotate={-90}>
        p<sub style={{ fontSize: 13, lineHeight: 0 }}>T</sub> (GeV/c)
      </Note>
      <Note x={937} y={596} size={19}>Proton Rapidity</Note>
      <Note x={930} y={173} size={24}>14.5GeV</Note>
      <Note x={928} y={377} size={24}>TPC+TOF</Note>
      <Note x={928} y={477} size={24}>TPC</Note>
      <Note x={783} y={515} size={19}>|η|&lt;1</Note>
      <Note x={1088} y={532} size={13}>STAR Preliminary</Note>
    </div>
  );
}
